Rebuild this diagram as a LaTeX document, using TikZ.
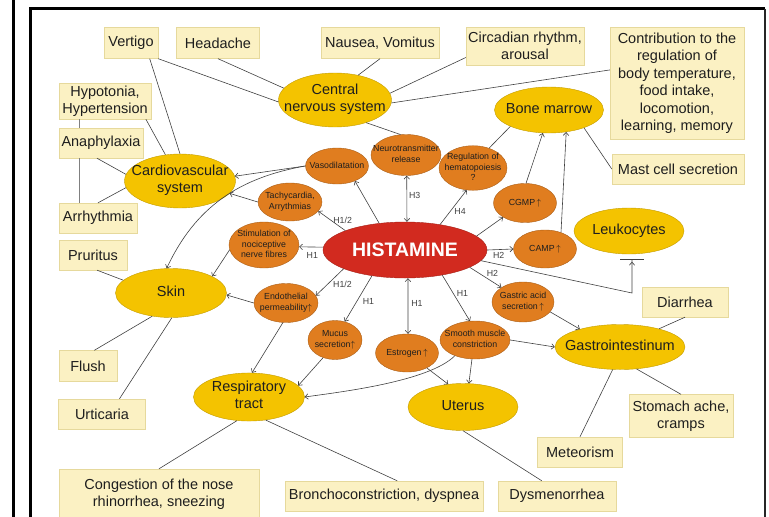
\documentclass[tikz,border=0pt]{standalone}
\usepackage{fontspec}
\setmainfont{Liberation Sans}
\usetikzlibrary{shapes.geometric,arrows.meta}

\definecolor{boxfill}{HTML}{FBF1C3}
\definecolor{boxline}{HTML}{E6D99C}
\definecolor{organfill}{HTML}{F4C300}
\definecolor{organline}{HTML}{C39C00}
\definecolor{efffill}{HTML}{E07D1F}
\definecolor{effline}{HTML}{A95E18}
\definecolor{histfill}{HTML}{D22A1F}
\definecolor{histline}{HTML}{A51F16}
\definecolor{ink}{HTML}{1E1E1E}
\definecolor{linkgray}{HTML}{404040}

% zero-width centred text, so the ellipse keeps its own size
\newcommand{\zt}[1]{\makebox[0pt]{\begin{tabular}{@{}c@{}}#1\end{tabular}}}
\newcommand{\up}{\,$\uparrow$}

\tikzset{
  box/.style={draw=boxline, fill=boxfill, inner sep=0pt, align=center, text=ink,
    font=\fontsize{14.5}{17.5}\selectfont},
  organ/.style={ellipse, draw=organline, fill=organfill, inner sep=0pt, text=ink,
    font=\fontsize{14.5}{17}\selectfont},
  effect/.style={ellipse, draw=effline, fill=efffill, inner sep=0pt, text=ink,
    font=\fontsize{8.8}{10.5}\selectfont},
  link/.style={draw=linkgray, line width=0.6pt},
  arr/.style={link, -{Straight Barb[length=3pt,width=5.5pt]}},
  arrs/.style={link, {Straight Barb[length=3pt,width=5.5pt]}-{Straight Barb[length=3pt,width=5.5pt]}},
  inh/.style={link, -{Straight Barb[length=3pt,width=5.5pt,sep=2pt]Bar[width=24pt]}, shorten >=5pt},
  hl/.style={font=\fontsize{8.8}{10}\selectfont, inner sep=1pt, text=ink!85},
}

\begin{document}
\begin{tikzpicture}[x=1pt,y=-1pt]
\useasboundingbox (0,0) rectangle (769,517);

% frame
\draw[line width=3pt] (13,0) -- (13,517);
\draw[line width=3pt] (30.5,517) -- (30.5,8.5) -- (765,8.5);
\draw[line width=1.5pt,black!85] (765,8.5) -- (765,517);

% symptoms
\node[box, minimum width=54pt, minimum height=31pt] (vertigo) at (131,43) {Vertigo};
\node[box, minimum width=83pt, minimum height=31pt] (headache) at (218,43) {Headache};
\node[box, minimum width=118pt, minimum height=31pt] (nausea) at (380,43) {Nausea, Vomitus};
\node[box, minimum width=118pt, minimum height=38pt] (circad) at (525,46) {Circadian rhythm,\\arousal};
\node[box, minimum width=134pt, minimum height=112pt] (contrib) at (677,83) {Contribution to the\\regulation of\\body temperature,\\food intake,\\locomotion,\\learning, memory};
\node[box, minimum width=132pt, minimum height=30pt] (mast) at (678,169) {Mast cell secretion};
\node[box, minimum width=92pt, minimum height=36pt] (hypo) at (105,101) {Hypotonia,\\Hypertension};
\node[box, minimum width=84pt, minimum height=30pt] (anaph) at (101,143) {Anaphylaxia};
\node[box, minimum width=78pt, minimum height=30pt] (arrhy) at (98,218) {Arrhythmia};
\node[box, minimum width=68pt, minimum height=30pt] (prur) at (93,255) {Pruritus};
\node[box, minimum width=58pt, minimum height=31pt] (flush) at (88,366) {Flush};
\node[box, minimum width=87pt, minimum height=30pt] (urtic) at (102,414) {Urticaria};
\node[box, minimum width=200pt, minimum height=50pt] (congest) at (159,494) {Congestion of the nose\\rhinorrhea, sneezing};
\node[box, minimum width=198pt, minimum height=30pt] (bronch) at (384,496) {Bronchoconstriction, dyspnea};
\node[box, minimum width=118pt, minimum height=30pt] (dysmen) at (557,496) {Dysmenorrhea};
\node[box, minimum width=85pt, minimum height=30pt] (meteor) at (580,452) {Meteorism};
\node[box, minimum width=104pt, minimum height=43pt] (stomach) at (681,416) {Stomach ache,\\cramps};
\node[box, minimum width=86pt, minimum height=30pt] (diarr) at (685,302) {Diarrhea};

% organs
\node[organ, minimum width=113pt, minimum height=54pt] (cns) at (335,100) {\zt{Central\\nervous system}};
\node[organ, minimum width=109pt, minimum height=46pt] (bone) at (549,110) {\zt{Bone marrow}};
\node[organ, minimum width=111pt, minimum height=54pt] (cardio) at (180,181) {\zt{Cardiovascular\\system}};
\node[organ, minimum width=111pt, minimum height=49pt] (skin) at (171,293) {\zt{Skin}};
\node[organ, minimum width=110pt, minimum height=46pt] (leuko) at (629,231) {\zt{Leukocytes}};
\node[organ, minimum width=130pt, minimum height=45pt] (gastro) at (620,347) {\zt{Gastrointestinum}};
\node[organ, minimum width=111pt, minimum height=47pt] (resp) at (249,397) {\zt{Respiratory\\tract}};
\node[organ, minimum width=110pt, minimum height=47pt] (uterus) at (463,407) {\zt{Uterus}};

% effects
\node[effect, minimum width=63pt, minimum height=36pt] (vaso) at (337,166) {\zt{Vasodilatation}};
\node[effect, minimum width=70pt, minimum height=41pt] (neuro) at (406,155) {\zt{Neurotransmitter\\release}};
\node[effect, minimum width=68pt, minimum height=43pt] (hemato) at (473,168) {\zt{Regulation of\\hematopoiesis\\?}};
\node[effect, minimum width=64pt, minimum height=38pt] (tachy) at (290,202) {\zt{Tachycardia,\\Arrythmias}};
\node[effect, minimum width=70pt, minimum height=46pt] (nocic) at (264,245) {\zt{Stimulation of\\nociceptive\\nerve fibres}};
\node[effect, minimum width=63pt, minimum height=39pt] (cgmp) at (525,203) {\zt{CGMP\up}};
\node[effect, minimum width=63pt, minimum height=38pt] (camp) at (545,249) {\zt{CAMP\up}};
\node[effect, minimum width=62pt, minimum height=40pt] (gastric) at (523,302) {\zt{Gastric acid\\secretion\up}};
\node[effect, minimum width=64pt, minimum height=39pt] (endo) at (286,303) {\zt{Endothelial\\permeability$\uparrow$}};
\node[effect, minimum width=54pt, minimum height=39pt] (mucus) at (335,340) {\zt{Mucus\\secretion$\uparrow$}};
\node[effect, minimum width=63pt, minimum height=38pt] (estro) at (407,353) {\zt{Estrogen\up}};
\node[effect, minimum width=70pt, minimum height=38pt] (smooth) at (475,340) {\zt{Smooth muscle\\constriction}};

\node[ellipse, draw=histline, fill=histfill, text=white, inner sep=0pt,
  minimum width=164pt, minimum height=56pt, font=\fontsize{19.5}{22}\selectfont\bfseries] (hist) at (405,250) {HISTAMINE};

% histamine receptors
\draw[arr] (hist.134) -- (vaso.-40);
\draw[arr] (hist.162) -- node[hl, pos=0.1, above=4pt] {H1/2} (tachy.-18);
\draw[arr] (hist.178) -- node[hl, pos=0.45, below=4pt] {H1} (nocic.-3);
\draw[arrs] (neuro.-88) -- node[hl, pos=0.43, right=1pt] {H3} (hist.86);
\draw[arr] (hist.36) -- node[hl, pos=0.38, right=3pt] {H4} (hemato.-106);
\draw[arr] (hist.11) -- (cgmp.-147);
\draw[arr] (hist.0) -- node[hl, pos=0.44, below=1pt] {H2} (camp.180);
\coordinate (kink) at (632,293);
\draw[inh] (hist.-8) -- (kink) -- (kink |- leuko.south);
\draw[arr] (hist.-15) -- node[hl, pos=0.5, above right=0pt] {H2} (gastric.146);
\draw[arrs] (hist.-84) -- node[hl, pos=0.45, right=2pt] {H1} (estro.87);
\draw[arr] (hist.-34) -- node[hl, pos=0.39, right=2.5pt] {H1} (smooth.105);
\draw[arr] (hist.-142) -- node[hl, pos=0.55, right=4.5pt] {H1} (mucus.62);
\draw[arr] (hist.-163) -- node[hl, pos=0.6, right=5pt] {H1/2} (endo.14);

% effects on organs
\draw[arr] (vaso.180) -- (cardio.5);
\draw[arr] (vaso.180) to[out=190,in=65] (skin.100);
\draw[arr] (tachy.180) -- (cardio.-14);
\draw[arr] (nocic.188) -- (skin.22);
\draw[arr] (endo.180) -- (skin.-2);
\draw[arr] (endo.-99) -- (resp.83);
\draw[arr] (mucus.-124) -- (resp.13);
\draw[arr] (smooth.-142) to[out=225,in=8,looseness=0.6] (resp.0);
\draw[arr] (smooth.-99) -- (uterus.76);
\draw[arr] (estro.-37) -- (uterus.123);
\draw[arr] (smooth.0) -- (gastro.180);
\draw[arr] (gastric.-20) -- (gastro.156);
\draw[arr] (cgmp.87) -- (bone.-105);
\draw[arr] (camp.46) -- (bone.-52);
\draw[link] (hemato.51) -- (bone.-157);
\draw[link] (bone.-27) -- (mast.west);
\draw[link] (cns.-36) -- (neuro.105);

% organs to symptoms
\draw[link] (vertigo.south east) -- (cns.182);
\draw[link] (headache.south) -- (cns.167);
\draw[link] (nausea.south) -- (cns.47);
\draw[link] (circad.191) -- (cns.7);
\draw[link] (contrib.169) -- (cns.-3);
\draw[link] (vertigo.-40) -- (cardio.north);
\draw[link] (hypo.-24) -- (cardio.119);
\draw[link] (anaph.-105) -- (cardio.173);
\draw[link] (arrhy.north) -- (cardio.187);
\draw[link, draw=black!50] ([xshift=20pt]hypo.south west) -- ([xshift=20pt]anaph.north west);
\draw[link, draw=black!50] ([xshift=20pt]anaph.south west) -- ([xshift=20pt]arrhy.north west);
\draw[link] (skin.165) -- (prur.-75);
\draw[link] (skin.-129) -- (flush.68);
\draw[link] (skin.-88) -- (urtic.41);
\draw[link] (resp.-117) -- (congest.north);
\draw[link] (resp.-54) -- (bronch.49);
\draw[link] (uterus.south) -- (dysmen.135);
\draw[link] (gastro.-108) -- (meteor.north);
\draw[link] (gastro.-53) -- (stomach.north);
\draw[link] (gastro.25) -- (diarr.south);
\end{tikzpicture}
\end{document}
